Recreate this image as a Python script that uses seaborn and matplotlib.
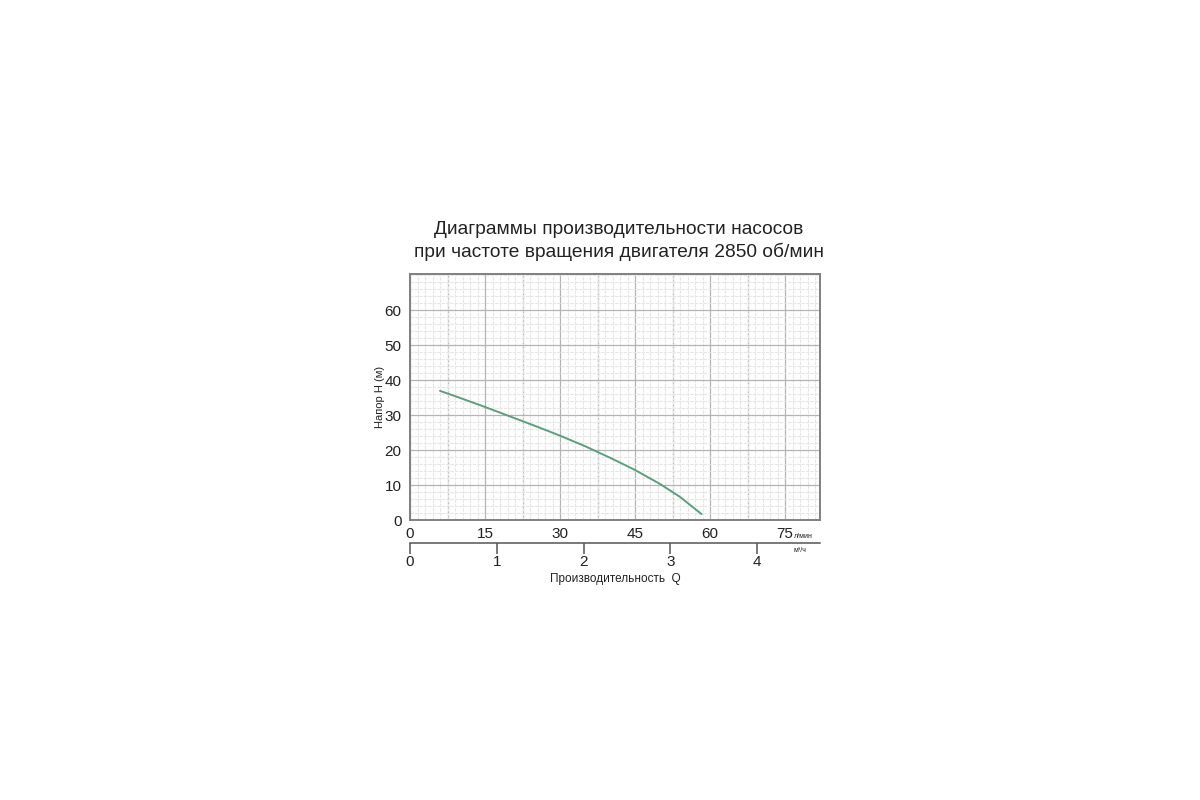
import matplotlib
matplotlib.use("Agg")
import matplotlib.pyplot as plt
from matplotlib.ticker import MultipleLocator
import seaborn as sns
import pandas as pd

sns.set_style("white")
plt.rcParams['font.family'] = ['Liberation Sans', 'DejaVu Sans']

# Pump curve: flow (l/min) vs head (m)
flow_lpm = [6, 10, 15, 20, 25, 30, 35, 40, 45, 50, 54, 58.3]
head_m = [36.9, 34.9, 32.3, 29.6, 26.9, 24.1, 21.1, 17.8, 14.3, 10.3, 6.6, 1.7]

x_ticks = [0, 15, 30, 45, 60, 75]
y_ticks = [0, 10, 20, 30, 40, 50, 60]
m3h_ticks = [0, 1, 2, 3, 4]
lpm_per_m3h = 17.35  # scale of the lower axis as drawn

curve = pd.DataFrame({"Q": flow_lpm, "H": head_m})

fig = plt.figure(figsize=(12, 8), dpi=100)
ax = fig.add_axes([410 / 1200, 1 - 520 / 800, 410 / 1200, 246 / 800])

sns.lineplot(data=curve, x="Q", y="H", ax=ax, color="#5c9f7c", linewidth=1.4, sort=False)

ax.set_xlim(0, 82)
ax.set_ylim(0, 70.3)

# grid: major every 7.5 l/min and 10 m, minor 5 subdivisions
ax.xaxis.set_minor_locator(MultipleLocator(1.5))
ax.yaxis.set_minor_locator(MultipleLocator(2))
ax.grid(which="major", color="#b4b4b4", linewidth=0.9)
ax.grid(which="minor", color="#e6e6e6", linewidth=0.8, linestyle=(0, (3, 1)))
ax.set_axisbelow(True)

ax.set_xticks(x_ticks)
ax.set_xticklabels([str(v) for v in x_ticks])
ax.set_yticks(y_ticks)
ax.set_yticklabels([str(v) for v in y_ticks])
# the 7.5 gridlines that carry no label
for xv in [7.5, 22.5, 37.5, 52.5, 67.5]:
    ax.axvline(xv, color="#b4b4b4", linewidth=0.9, zorder=0.5)

ax.tick_params(axis="both", which="both", length=0, labelsize=11, colors="#222222")
ax.tick_params(axis="x", pad=5)
ax.tick_params(axis="y", pad=6)
for s in ax.spines.values():
    s.set_color("#808080")
    s.set_linewidth(1.4)

ax.set_xlabel("")
ax.set_ylabel("Напор Н (м)", fontsize=8, labelpad=0, color="#222222")

# lower axis in m3/h
sec = ax.secondary_xaxis(-23 / 246, functions=(lambda q: q / lpm_per_m3h, lambda m: m * lpm_per_m3h))
sec.set_xticks(m3h_ticks)
sec.set_xticklabels([str(v) for v in m3h_ticks])
sec.tick_params(length=8, width=1.1, color="#555555", labelsize=11, labelcolor="#222222", pad=1)
sec.spines["bottom"].set_color("#555555")
sec.spines["bottom"].set_linewidth(1.1)

fig.text(803 / 1200, 1 - 537 / 800, "л/мин", fontsize=5, ha="center", va="center", color="#222222")
fig.text(800 / 1200, 1 - 551 / 800, "м³/ч", fontsize=5, ha="center", va="center", color="#222222")
fig.text(615 / 1200, 1 - 579 / 800, "Производительность  Q", fontsize=8.5, ha="center", va="center",
         color="#222222")

fig.text(619 / 1200, 1 - 241 / 800,
         "Диаграммы производительности насосов\nпри частоте вращения двигателя 2850 об/мин",
         fontsize=13.8, ha="center", va="center", color="#222222", linespacing=1.3)

fig.savefig("out.png", dpi=100)
